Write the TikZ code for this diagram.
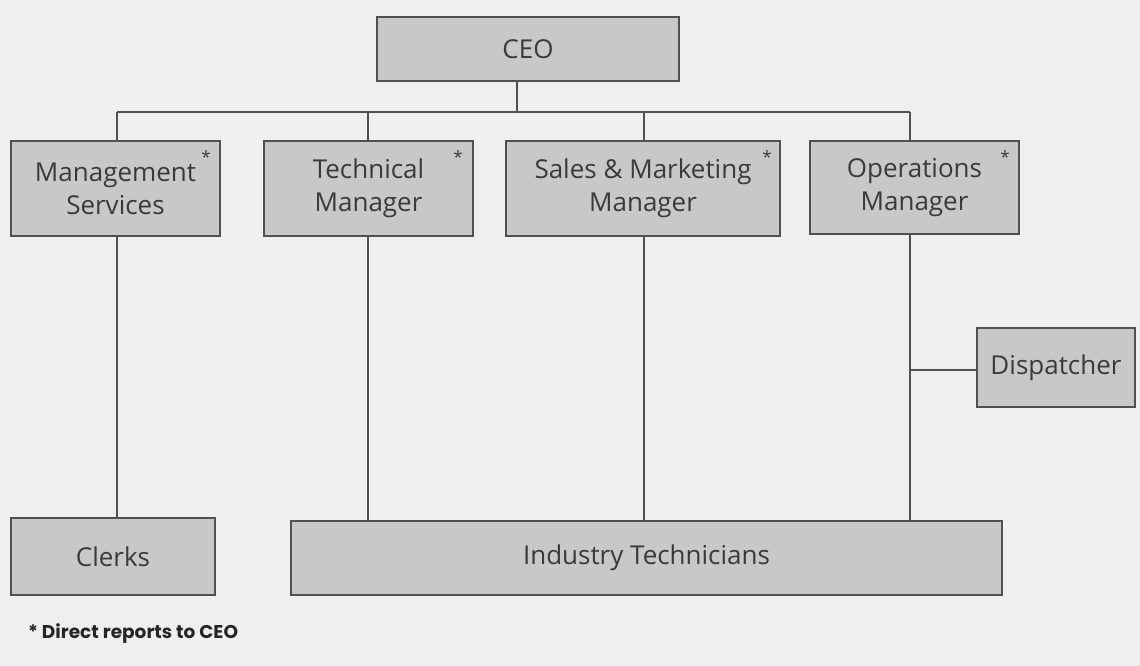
\documentclass[tikz,border=0pt]{standalone}
\usepackage{fontspec}
\setmainfont{Open Sans}
\newfontfamily\footfont{Poppins}
\definecolor{bg}{HTML}{EFEFEF}
\definecolor{boxfill}{HTML}{C8C8C8}
\definecolor{boxline}{HTML}{505050}
\definecolor{txt}{HTML}{3A3A3A}
\begin{document}
\begin{tikzpicture}[x=1pt,y=-1pt,
  box/.style={draw=boxline, line width=2.2pt, fill=boxfill, text=txt, inner sep=0pt,
    align=center, font=\fontsize{26}{33}\selectfont},
  conn/.style={draw=boxline, line width=2pt},
  star/.style={text=txt, inner sep=0pt, font=\fontsize{17}{17}\selectfont}]
\fill[bg] (0,0) rectangle (1140,666);
\useasboundingbox (0,0) rectangle (1140,666);
% boxes
\node[box, minimum width=302, minimum height=64] (ceo) at (528,49) {CEO};
\node[box, minimum width=209, minimum height=95] (mgmt) at (115.5,188.5) {Management\\Services};
\node[box, minimum width=209, minimum height=95] (tech) at (368.5,188.5) {Technical\\Manager};
\node[box, minimum width=274, minimum height=95] (sales) at (643,188.5) {Sales \& Marketing\\Manager};
\node[box, minimum width=209, minimum height=93] (ops) at (914.5,187.5) {Operations\\Manager};
\node[box, minimum width=158, minimum height=79] (disp) at (1056,367.5) {Dispatcher};
\node[box, minimum width=204, minimum height=77] (clerks) at (113,556.5) {Clerks};
\node[box, minimum width=711, minimum height=74] (ind) at (646.5,558) {Industry Technicians};
% asterisks
\node[star] (s1) at (206,157) {*};
\node[star] (s2) at (458,157) {*};
\node[star] (s3) at (767,157) {*};
\node[star] (s4) at (1005,157) {*};
% footnote
\node[anchor=west, inner sep=0pt, text=black!85, font=\footfont\bfseries\fontsize{18.5}{20}\selectfont] (foot) at (28,634) {* Direct reports to CEO};
% connectors
\coordinate (busL) at (117,112);
\coordinate (busR) at (910,112);
\coordinate (c2) at (368,112);
\coordinate (c3) at (644,112);
\coordinate (c0) at (517,112);
\coordinate (dj) at (910,370);
\draw[conn] (c0 |- ceo.south) -- (c0);
\draw[conn] (busL) -- (busR);
\draw[conn] (busL) -- (busL |- mgmt.north);
\draw[conn] (c2) -- (c2 |- tech.north);
\draw[conn] (c3) -- (c3 |- sales.north);
\draw[conn] (busR) -- (busR |- ops.north);
\draw[conn] (busL |- mgmt.south) -- (busL |- clerks.north);
\draw[conn] (c2 |- tech.south) -- (c2 |- ind.north);
\draw[conn] (c3 |- sales.south) -- (c3 |- ind.north);
\draw[conn] (busR |- ops.south) -- (busR |- ind.north);
\draw[conn] (dj -| disp.west) -- (dj);
\end{tikzpicture}
\end{document}
